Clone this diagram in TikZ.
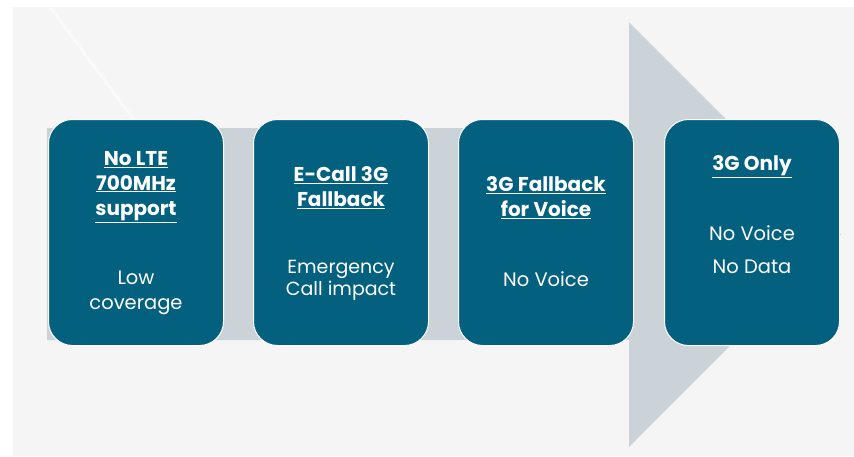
\documentclass[tikz,border=0pt]{standalone}
\usepackage{fontspec}
\setmainfont{Poppins}
\usetikzlibrary{positioning}
\definecolor{boxblue}{HTML}{03607E}
\definecolor{arrowgray}{HTML}{CBD3D9}
\definecolor{panelgray}{HTML}{F5F5F5}
\tikzset{
	stage/.style={draw=white, line width=1pt, fill=boxblue, rounded corners=24pt,
		minimum width=175pt, minimum height=226pt, inner sep=0pt},
	headline/.style={text=white, align=center, inner sep=0pt,
		font=\fontsize{20}{25}\selectfont\bfseries},
	effect/.style={text=white, align=center, inner sep=0pt,
		font=\fontsize{19.5}{25}\selectfont},
}
\begin{document}
\begin{tikzpicture}[x=1pt,y=-1pt]% 1pt = 1px of the slide
	\useasboundingbox (0,0) rectangle (854,456);
	\fill[white] (0,0) rectangle (854,456);
	\fill[panelgray] (13,7) rectangle (854,456);
	\draw[white, line width=3pt, opacity=.5] (50,7) -- (140,128);
	% big arrow behind the stages
	\fill[arrowgray] (47,128) -- (629,128) -- (629,22) -- (841,234.5)
		-- (629,447) -- (629,340) -- (47,340) -- cycle;
	% stages
	\node[stage] (b1) at (136,232.5) {};
	\node[stage] (b2) at (341,232.5) {};
	\node[stage] (b3) at (546,232.5) {};
	\node[stage] (b4) at (752,232.5) {};
	% texts
	\node[headline, below=32pt of b1.north] (h1)
		{\underline{No LTE}\\\underline{700MHz}\\\underline{support}};
	\node[effect, below=152pt of b1.north] (e1) {Low\\coverage};
	\node[headline, below=47pt of b2.north] (h2)
		{\underline{E-Call 3G}\\\underline{Fallback}};
	\node[effect, below=141pt of b2.north, font=\fontsize{19}{22}\selectfont] (e2)
		{Emergency\\Call impact};
	\node[headline, below=57pt of b3.north] (h3)
		{\underline{3G Fallback}\\\underline{for Voice}};
	\node[effect, below=152pt of b3.north] (e3) {No Voice};
	\node[headline, below=36pt of b4.north] (h4) {\underline{3G Only}};
	\node[effect, below=106pt of b4.north, font=\fontsize{19.5}{33}\selectfont] (e4)
		{No Voice\\No Data};
\end{tikzpicture}
\end{document}
